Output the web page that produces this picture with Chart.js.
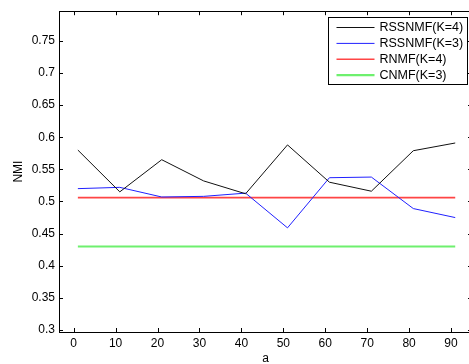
<!DOCTYPE html>
<html lang="en">
<head>
<meta charset="UTF-8">
<title>NMI vs a</title>
<script src="https://cdn.jsdelivr.net/npm/chart.js"></script>
<style>
    html, body{
        margin: 0;
        padding: 0;
        background: #fff;
        overflow: hidden;
        width: 469px;
        height: 364px;
    }
    #nmiChart{
        display: block;
    }
</style>
</head>
<body>
<canvas id="nmiChart" width="476" height="364"></canvas>
<script>
// values
const aValues = [1, 11, 21, 31, 41, 51, 61, 71, 81, 91];
const rssnmfK4 = [0.580, 0.515, 0.565, 0.532, 0.512, 0.588, 0.530, 0.516, 0.579, 0.591];
const rssnmfK3 = [0.520, 0.522, 0.507, 0.508, 0.513, 0.459, 0.537, 0.538, 0.489, 0.475];
const rnmfK4 = [0.506, 0.506, 0.506, 0.506, 0.506, 0.506, 0.506, 0.506, 0.506, 0.506];
const cnmfK3 = [0.430, 0.430, 0.430, 0.430, 0.430, 0.430, 0.430, 0.430, 0.430, 0.430];
const seriesNames = ["RSSNMF(K=4)", "RSSNMF(K=3)", "RNMF(K=4)", "CNMF(K=3)"];
const xTicks = [0, 10, 20, 30, 40, 50, 60, 70, 80, 90];
const yTicks = [0.3, 0.35, 0.4, 0.45, 0.5, 0.55, 0.6, 0.65, 0.7, 0.75];

const FONT = "'Liberation Sans', Arial, Helvetica, sans-serif";

function pts(arr){
    return aValues.map((a, i) => ({x: a, y: arr[i]}));
}

// matlab style box, inward ticks and boxed legend
const matlabFrame = {
    id: "matlabFrame",
    afterDraw(chart){
        const ctx = chart.ctx;
        const a = chart.chartArea;
        const x = chart.scales.x, y = chart.scales.y;
        ctx.save();
        ctx.strokeStyle = "#000";
        ctx.lineWidth = 1;
        ctx.strokeRect(Math.round(a.left) + 0.5, Math.round(a.top) + 0.5,
            Math.round(a.right - a.left), Math.round(a.bottom - a.top));
        const tl = 4;
        ctx.beginPath();
        xTicks.forEach(v => {
            const px = Math.round(x.getPixelForValue(v)) + 0.5;
            ctx.moveTo(px, a.bottom); ctx.lineTo(px, a.bottom - tl);
            ctx.moveTo(px, a.top); ctx.lineTo(px, a.top + tl);
        });
        yTicks.forEach(v => {
            const py = Math.round(y.getPixelForValue(v)) + 0.5;
            ctx.moveTo(a.left, py); ctx.lineTo(a.left + tl, py);
            ctx.moveTo(a.right, py); ctx.lineTo(a.right - tl, py);
        });
        ctx.stroke();

        // legend
        const bx = Math.round(a.right) - 143.5, by = Math.round(a.top) + 6.5;
        const bw = 139, bh = 67;
        ctx.fillStyle = "#fff";
        ctx.fillRect(bx, by, bw, bh);
        ctx.strokeRect(bx, by, bw, bh);
        ctx.font = "12.5px " + FONT;
        ctx.textBaseline = "middle";
        ctx.textAlign = "left";
        chart.data.datasets.forEach((ds, i) => {
            const ry = by + 10 + i * 15.9;
            ctx.beginPath();
            ctx.strokeStyle = ds.borderColor;
            ctx.lineWidth = ds.borderWidth;
            ctx.moveTo(bx + 8, ry); ctx.lineTo(bx + 46, ry);
            ctx.stroke();
            ctx.fillStyle = "#000";
            ctx.fillText(ds.label, bx + 51, ry + 0.5);
        });
        ctx.restore();
    }
};

const ctx = document.getElementById("nmiChart").getContext("2d");
new Chart(ctx, {
    type: "line",
    data: {
        datasets: [
            {label: seriesNames[0], data: pts(rssnmfK4), borderColor: "#111", borderWidth: 1},
            {label: seriesNames[1], data: pts(rssnmfK3), borderColor: "#2020ff", borderWidth: 1},
            {label: seriesNames[2], data: pts(rnmfK4), borderColor: "#ff4545", borderWidth: 1.6},
            {label: seriesNames[3], data: pts(cnmfK3), borderColor: "#6ef06e", borderWidth: 2.2}
        ]
    },
    options: {
        responsive: false,
        animation: false,
        devicePixelRatio: 1,
        layout: {padding: {top: 5, right: 4, left: 0, bottom: 0}},
        elements: {
            point: {radius: 0},
            line: {tension: 0, fill: false}
        },
        plugins: {
            legend: {display: false},
            tooltip: {enabled: false}
        },
        scales: {
            x: {
                type: "linear",
                min: -3.5,
                max: 95,
                afterBuildTicks: s => { s.ticks = xTicks.map(v => ({value: v})); },
                afterFit: s => { s.height = 32; },
                grid: {display: false, drawTicks: false},
                border: {display: false},
                ticks: {
                    color: "#000",
                    padding: 4,
                    maxRotation: 0,
                    font: {family: FONT, size: 12},
                    callback: v => String(v)
                },
                title: {
                    display: true,
                    text: "a",
                    color: "#000",
                    padding: {top: 0, bottom: -2},
                    font: {family: FONT, size: 12}
                }
            },
            y: {
                min: 0.297,
                max: 0.796,
                afterBuildTicks: s => { s.ticks = yTicks.map(v => ({value: v})); },
                afterFit: s => { s.width = 59; },
                grid: {display: false, drawTicks: false},
                border: {display: false},
                ticks: {
                    color: "#000",
                    padding: 4,
                    font: {family: FONT, size: 12},
                    callback: v => String(+v.toFixed(2))
                },
                title: {
                    display: true,
                    text: "NMI",
                    color: "#000",
                    padding: {top: 11, bottom: 0},
                    font: {family: FONT, size: 12}
                }
            }
        }
    },
    plugins: [matlabFrame]
});
</script>
</body>
</html>
